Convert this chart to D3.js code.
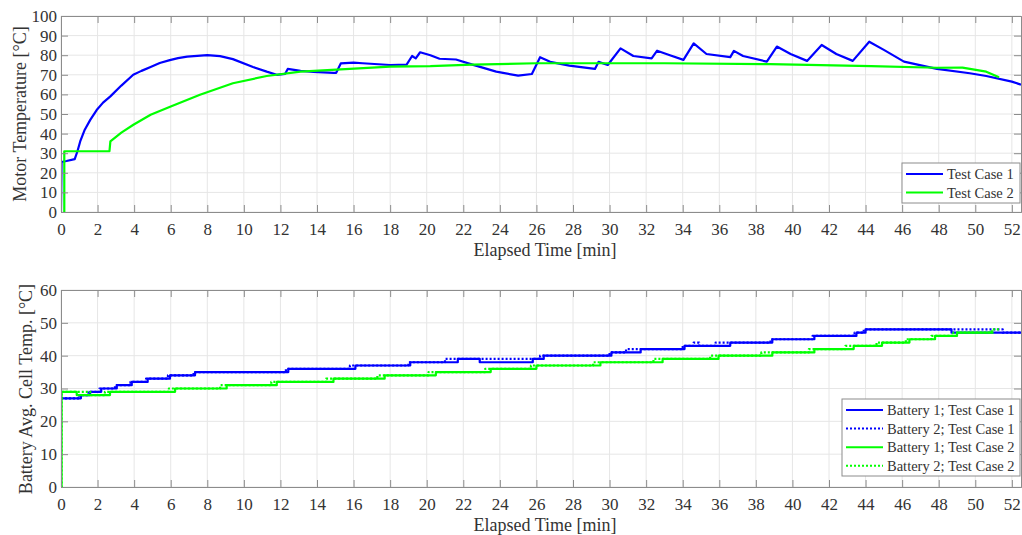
<!DOCTYPE html>
<html>
<head>
<meta charset="utf-8">
<script src="https://cdn.jsdelivr.net/npm/d3@7"></script>
<style>
  body { margin: 0; background: #fff; }
  svg text { font-family: "Liberation Serif", "Times New Roman", serif; fill: #333; }
</style>
</head>
<body>
<div id="chart"></div>
<script>
// ---- data (time [min], value [°C]) ----
var motorTestCase1 = [
  [0,0],[0.03,25.5],[0.3,26],[0.75,27],[0.9,31],[1.05,36],[1.3,42],[1.6,47],[1.95,52],[2.3,55.8],[2.7,59],
  [3.3,64.5],[3.95,70],[4.4,72],[4.9,74],[5.4,76],[5.95,77.5],[6.4,78.5],[6.9,79.3],[8.0,80],[8.7,79.5],
  [9.4,78],[10.5,74],[11.25,71.6],[11.8,70],[12.26,70.5],[12.4,73],[13.1,72],[13.8,71.5],[14.9,71],
  [15.05,71],[15.3,75.8],[16.0,76.2],[16.5,75.9],[18.0,75],[18.9,75.2],[19.2,79.6],[19.4,78.4],
  [19.64,81.5],[20.2,80],[20.7,78.2],[21.6,77.8],[22.5,75.2],[23.8,71.6],[25.0,69.6],[25.75,70.4],
  [26.2,79],[26.75,76.6],[27.8,74.7],[29.2,73],[29.4,76.6],[29.9,75],[30.6,83.5],[31.3,79.6],[32.3,78.4],
  [32.6,82.3],[33.3,80],[34.04,77.6],[34.6,86],[35.3,80.6],[36.6,79],[36.8,82.2],[37.3,79.6],[38.6,76.7],
  [39.15,84.4],[39.9,80.6],[40.8,77.1],[41.6,85.2],[42.4,80.6],[43.3,77.1],[44.2,86.9],[45.0,82.7],
  [46.1,76.7],[47.9,73],[49.7,70.8],[50.6,69.4],[52.0,66.5],[52.5,65]
];
var motorTestCase2 = [
  [0.18,0],[0.18,31],[2.65,31],[2.7,36],[3.3,40.5],[3.96,44.5],[4.9,49.6],[6.0,53.8],[7.6,59.8],[9.4,65.7],
  [11.25,69.4],[13.1,71.6],[15.3,72.8],[18,74.2],[20.2,74.4],[22.5,75.2],[26,75.9],[33,75.9],
  [38.8,75.4],[44.3,74.4],[47.9,73.6],[49.3,73.7],[50.6,71.6],[51.3,68.8]
];

// battery cell temps, step changes
var batt1Case1 = [[0,27],[1.09,28],[1.59,29],[2.2,30],[3.05,31],[3.87,32],[4.74,33],[5.96,34],[7.33,35],
  [12.43,36],[16.1,37],[19.1,38],[21.7,39],[22.9,38],[25.8,39],[26.4,40],[30.1,41],[31.7,42],[34.1,43],
  [36.6,44],[38.9,45],[41.2,46],[43.5,47],[44.0,48],[48.7,47],[52.5,47]];
var batt2Case1 = [[0,27],[1.0,28],[1.5,29],[2.1,30],[2.95,31],[3.8,32],[4.65,33],[5.85,34],[7.25,35],
  [12.3,36],[15.8,37],[19.0,38],[21.0,39],[26.2,40],[30.0,41],[30.9,42],[34.0,43],[34.6,44],[34.9,43],
  [35.8,44],[38.8,45],[41.1,46],[43.4,47],[43.9,48],[51.5,47],[52.5,47]];
var batt1Case2 = [[0,0],[0.03,29],[0.86,28],[2.68,29],[6.24,30],[9.06,31],[11.8,32],[14.9,33],[17.7,34],
  [20.5,35],[23.5,36],[26.0,37],[29.5,38],[32.9,39],[35.96,40],[38.9,41],[41.2,42],[43.35,43],[44.9,44],
  [46.4,45],[47.8,46],[49.0,47],[51.0,47]];
var batt2Case2 = [[0,0],[0.03,29],[1.6,28],[2.4,29],[5.9,30],[8.7,31],[11.5,32],[14.5,33],[17.3,34],
  [20.1,35],[23.2,36],[25.7,37],[29.1,38],[32.4,39],[35.5,40],[38.3,41],[40.9,42],[42.9,43],[44.6,44],
  [46.2,45],[47.6,46],[48.8,47],[50.9,48],[51.3,48]];

var xTicks = d3.range(0, 53, 2);
var motorTicks = d3.range(0, 101, 10);
var battTicks = d3.range(0, 61, 10);

var blue = "#0000ff", green = "#00ff00";

var width = 1022, height = 535,
    left = 61, right = 1021;

var svg = d3.select("#chart").append("svg")
    .attr("width", width)
    .attr("height", height);

function panel(opt) {
    var x = d3.scaleLinear().domain([0, 52.5]).range([left, right]);
    var y = d3.scaleLinear().domain(opt.yDomain).range([opt.bottom, opt.top]);
    var g = svg.append("g");
    var clipId = "clip" + opt.id;

    g.append("clipPath").attr("id", clipId)
        .append("rect")
        .attr("x", left).attr("y", opt.top)
        .attr("width", right - left).attr("height", opt.bottom - opt.top);

    // grid
    g.append("g").selectAll("line.vg").data(xTicks).enter().append("line")
        .attr("x1", x).attr("x2", x)
        .attr("y1", opt.top).attr("y2", opt.bottom)
        .style("stroke", "#e6e6e6");
    g.append("g").selectAll("line.hg").data(opt.yTicks).enter().append("line")
        .attr("x1", left).attr("x2", right)
        .attr("y1", y).attr("y2", y)
        .style("stroke", "#e6e6e6");

    // series
    var plot = g.append("g").attr("clip-path", "url(#" + clipId + ")");
    opt.series.forEach(function(s) {
        var line = d3.line()
            .x(function(d) { return x(d[0]); })
            .y(function(d) { return y(d[1]); })
            .curve(s.step ? d3.curveStepAfter : d3.curveLinear);
        plot.append("path")
            .attr("d", line(s.data))
            .style("fill", "none")
            .style("stroke", s.color)
            .style("stroke-width", 2.2)
            .style("stroke-dasharray", s.dotted ? "2,2" : null)
            .style("stroke-linejoin", "round");
    });

    // axes, ticks point inward on all four sides
    var xb = g.append("g").attr("transform", "translate(0," + opt.bottom + ")")
        .call(d3.axisBottom(x).tickValues(xTicks).tickSize(-7).tickPadding(11));
    var xt = g.append("g").attr("transform", "translate(0," + opt.top + ")")
        .call(d3.axisTop(x).tickValues(xTicks).tickSize(-7).tickFormat(""));
    var yl = g.append("g").attr("transform", "translate(" + left + ",0)")
        .call(d3.axisLeft(y).tickValues(opt.yTicks).tickSize(-7).tickPadding(4));
    var yr = g.append("g").attr("transform", "translate(" + right + ",0)")
        .call(d3.axisRight(y).tickValues(opt.yTicks).tickSize(-7).tickFormat(""));
    [xb, xt, yl, yr].forEach(function(a) {
        a.select(".domain").style("stroke", "#8c8c8c");
        a.selectAll(".tick line").style("stroke", "#8c8c8c");
        a.selectAll("text").style("font-size", "17px").style("font-family", "Liberation Serif").style("fill", "#333");
    });

    g.append("text")
        .attr("x", 545).attr("y", opt.bottom + 44)
        .attr("text-anchor", "middle")
        .style("font-size", "18px")
        .text("Elapsed Time [min]");
    g.append("text")
        .attr("transform", "translate(" + opt.labelX + "," + opt.labelY + ") rotate(-90)")
        .attr("text-anchor", "middle")
        .attr("dy", "0.35em")
        .style("font-size", "18px")
        .text(opt.yLabel);

    // legend
    var lg = g.append("g");
    lg.append("rect")
        .attr("x", opt.legend.x).attr("y", opt.legend.y)
        .attr("width", opt.legend.w).attr("height", opt.legend.h)
        .style("fill", "#fff").style("stroke", "#8c8c8c");
    opt.series.forEach(function(s, i) {
        var ly = opt.legend.y + 11 + i * opt.legend.row;
        lg.append("line")
            .attr("x1", opt.legend.x + 4).attr("x2", opt.legend.x + 41)
            .attr("y1", ly).attr("y2", ly)
            .style("stroke", s.color).style("stroke-width", 2)
            .style("stroke-dasharray", s.dotted ? "2,2" : null);
        lg.append("text")
            .attr("x", opt.legend.x + 45).attr("y", ly)
            .attr("dy", "0.35em")
            .style("font-size", "14.5px")
            .text(s.name);
    });
}

panel({
    id: 1, top: 16, bottom: 212, yDomain: [0, 100], yTicks: motorTicks,
    yLabel: "Motor Temperature [°C]", labelX: 20, labelY: 114,
    legend: { x: 902, y: 163, w: 118, h: 40, row: 18.5 },
    series: [
        { name: "Test Case 1", data: motorTestCase1, color: blue },
        { name: "Test Case 2", data: motorTestCase2, color: green }
    ]
});

panel({
    id: 2, top: 290, bottom: 487, yDomain: [0, 60], yTicks: battTicks,
    yLabel: "Battery Avg. Cell Temp. [°C]", labelX: 26, labelY: 389,
    legend: { x: 842, y: 399, w: 178, h: 77, row: 18.6 },
    series: [
        { name: "Battery 1; Test Case 1", data: batt1Case1, color: blue, step: true },
        { name: "Battery 2; Test Case 1", data: batt2Case1, color: blue, step: true, dotted: true },
        { name: "Battery 1; Test Case 2", data: batt1Case2, color: green, step: true },
        { name: "Battery 2; Test Case 2", data: batt2Case2, color: green, step: true, dotted: true }
    ]
});
</script>
</body>
</html>
